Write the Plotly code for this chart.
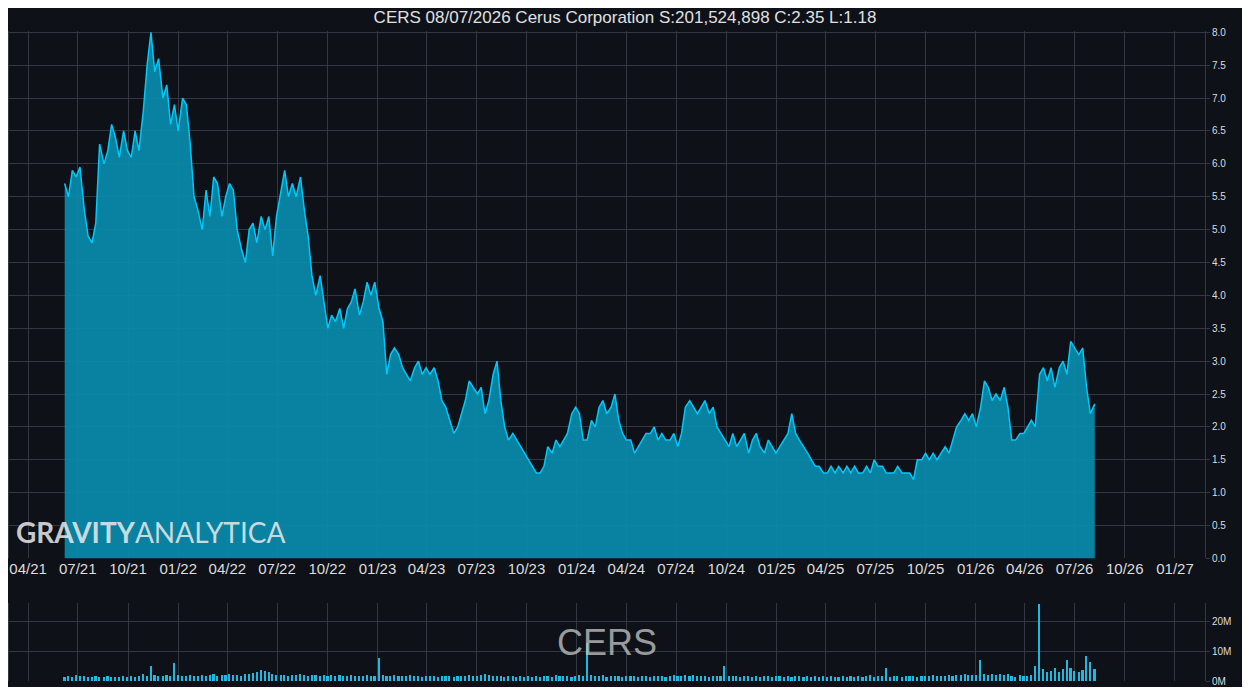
import plotly.graph_objects as go
import pandas as pd

price = [5.7,5.5,5.9,5.8,5.95,5.3,4.9,4.8,5.1,6.3,6.0,6.2,6.6,6.4,6.1,6.5,6.2,6.1,6.5,6.2,
6.8,7.5,8.0,7.4,7.6,7.0,7.2,6.6,6.9,6.5,7.0,6.9,6.3,5.5,5.3,5.0,5.6,5.2,5.8,5.7,
5.2,5.5,5.7,5.6,5.0,4.7,4.5,5.0,5.1,4.8,5.2,5.0,5.2,4.6,5.2,5.6,5.9,5.5,5.7,5.5,
5.8,5.3,4.9,4.3,4.0,4.3,3.9,3.5,3.7,3.6,3.8,3.5,3.8,3.9,4.1,3.7,3.9,4.2,4.0,4.2,
3.8,3.6,2.8,3.1,3.2,3.1,2.9,2.8,2.7,2.9,3.0,2.8,2.9,2.8,2.9,2.7,2.4,2.3,2.1,1.9,
2.0,2.2,2.4,2.7,2.6,2.5,2.6,2.2,2.4,2.8,3.0,2.4,2.0,1.8,1.9,1.8,1.7,1.6,1.5,1.4,
1.3,1.3,1.4,1.7,1.6,1.8,1.7,1.8,1.9,2.2,2.3,2.2,1.8,1.8,2.1,2.0,2.3,2.4,2.2,2.3,
2.5,2.1,1.9,1.8,1.8,1.6,1.7,1.8,1.9,1.9,2.0,1.8,1.9,1.8,1.8,1.9,1.7,1.9,2.3,2.4,
2.3,2.2,2.3,2.4,2.2,2.3,2.0,1.9,1.8,1.7,1.9,1.7,1.8,1.9,1.6,1.8,1.9,1.7,1.6,1.8,
1.7,1.6,1.7,1.8,1.9,2.2,1.9,1.8,1.7,1.6,1.5,1.4,1.4,1.3,1.3,1.4,1.3,1.4,1.3,1.4,
1.3,1.4,1.3,1.3,1.4,1.3,1.5,1.4,1.4,1.3,1.3,1.3,1.4,1.3,1.3,1.3,1.2,1.5,1.5,1.6,
1.5,1.6,1.5,1.6,1.7,1.6,1.8,2.0,2.1,2.2,2.1,2.2,2.0,2.3,2.7,2.6,2.4,2.5,2.4,2.6,
2.3,1.8,1.8,1.9,1.9,2.0,2.1,2.0,2.8,2.9,2.7,2.9,2.6,2.9,3.0,2.8,3.3,3.2,3.1,3.2,
2.6,2.2,2.35]

volume = [1.5,1.8,1.6,2.0,1.7,1.9,1.5,1.4,1.8,1.6,1.5,1.7,1.4,1.6,1.5,1.8,1.6,1.7,1.5,1.9,
2.4,1.8,5.0,2.2,1.9,1.7,2.0,1.8,6.0,2.1,1.9,1.8,2.0,1.7,1.9,2.2,1.8,2.0,2.3,1.9,
2.1,2.0,2.4,2.2,2.0,1.9,2.3,2.6,2.9,3.2,3.8,3.5,3.0,2.5,2.2,2.0,2.1,1.9,2.2,2.0,
2.3,2.1,1.9,2.2,2.0,1.8,2.1,1.9,2.0,1.8,2.2,1.9,1.8,2.0,1.7,1.9,1.8,2.0,1.7,1.9,
8.0,2.2,1.9,1.8,2.0,1.7,1.9,1.8,2.1,1.7,1.8,1.6,1.9,1.7,1.8,1.6,1.9,1.7,1.8,1.6,
1.9,1.7,1.8,2.0,1.7,1.9,2.2,2.6,2.0,1.8,1.7,1.9,1.6,1.8,1.7,1.5,1.8,1.6,1.7,1.5,
1.8,1.6,1.7,1.9,1.6,2.0,1.8,1.7,1.9,1.6,1.8,2.2,1.9,13.0,2.1,1.8,1.7,2.0,1.6,1.9,
1.7,1.8,1.6,1.9,1.7,1.8,1.6,1.7,1.9,1.6,1.8,1.7,1.9,1.6,1.8,2.0,1.7,1.9,2.1,1.8,
2.0,1.8,1.7,1.9,1.6,1.8,1.7,1.9,5.0,1.8,1.7,1.9,1.6,1.8,1.7,1.5,1.8,1.6,1.7,1.9,
1.6,1.8,1.7,1.5,1.9,1.6,1.8,1.7,1.6,1.9,1.5,1.7,1.6,1.8,1.5,1.7,1.6,1.5,1.8,1.6,
1.7,1.5,1.8,1.6,1.7,2.0,1.6,1.8,1.7,4.5,1.6,1.8,1.7,1.6,1.9,1.7,1.8,1.6,1.9,1.7,
1.8,2.0,1.7,1.9,1.8,2.1,1.9,2.2,2.0,2.3,2.1,2.0,2.2,7.0,2.5,2.2,2.4,2.0,2.3,2.1,
2.6,1.8,1.6,2.0,1.7,1.9,2.1,5.0,26.0,4.0,3.0,3.5,4.5,3.2,4.0,7.0,4.5,3.5,3.0,3.8,
8.5,6.5,4.0]

dates = pd.date_range(start="2021-06-07", end="2026-08-07", periods=len(price)).normalize()
tick_vals = pd.date_range("2021-04-01", "2027-01-01", freq="QS")
tick_text = [d.strftime("%m/%y") for d in tick_vals]
price_ticks = [i * 0.5 for i in range(17)]

bg = "#0e1118"
grid = "#333740"
fig = go.Figure()
fig.add_trace(go.Scatter(x=dates, y=price, mode="lines", fill="tozeroy",
                         line=dict(color="#00c8f8", width=1.5),
                         fillcolor="rgba(8,140,172,0.92)", xaxis="x", yaxis="y"))
fig.add_trace(go.Bar(x=dates, y=[v * 1e6 for v in volume], marker=dict(color="#1fb8e0", line=dict(width=0)),
                     width=3 * 86400000, xaxis="x2", yaxis="y2"))

xr = ["2021-02-25", "2027-02-25"]
fig.update_layout(
    width=1234, height=679, paper_bgcolor=bg, plot_bgcolor=bg, showlegend=False,
    margin=dict(l=0, r=37, t=23, b=0),
    title=dict(text="CERS 08/07/2026 Cerus Corporation S:201,524,898 C:2.35 L:1.18",
               x=0.5, y=1, yref="container", xanchor="center", yanchor="top", pad=dict(t=3),
               font=dict(family="Liberation Sans", size=17, color="#e0e0e0")),
    font=dict(family="Liberation Sans", color="#dddddd"),
    xaxis=dict(domain=[0, 1], range=xr, anchor="y", tickvals=tick_vals, ticktext=tick_text,
               showgrid=True, gridcolor=grid, zeroline=False, tickfont=dict(size=15, color="#dddddd"),
               showline=False),
    yaxis=dict(domain=[0.1886, 1], range=[0, 8.02], side="right", tickvals=price_ticks,
               ticktext=[f"{v:.1f}" for v in price_ticks], showgrid=True, gridcolor=grid,
               zeroline=False, tickfont=dict(size=10, color="#dddddd"), ticks="outside",
               ticklen=4, tickcolor=grid, showline=True, linecolor=grid, mirror=True),
    xaxis2=dict(domain=[0, 1], range=xr, anchor="y2", tickvals=tick_vals, showticklabels=False,
                showgrid=True, gridcolor=grid, zeroline=False),
    yaxis2=dict(domain=[0, 0.1205], range=[0, 26.3e6], side="right", tickvals=[0, 10e6, 20e6],
                ticktext=["0M", "10M", "20M"], showgrid=True, gridcolor=grid, zeroline=False,
                tickfont=dict(size=10, color="#dddddd"), ticks="outside", ticklen=4, tickcolor=grid,
                showline=True, linecolor=grid, mirror=True),
    bargap=0,
    annotations=[
        dict(text="<b>GRAVITY</b>ANALYTICA", xref="paper", yref="paper", x=0.004, y=0.2,
             xanchor="left", yanchor="bottom", showarrow=False,
             font=dict(family="Lato", size=28, color="rgba(235,235,235,0.85)")),
        dict(text="CERS", xref="paper", yref="paper", x=0.5, y=0.06, xanchor="center", yanchor="middle",
             showarrow=False, font=dict(family="Liberation Sans", size=36, color="rgba(200,200,200,0.75)")),
    ],
)
fig.write_html("out.html")
